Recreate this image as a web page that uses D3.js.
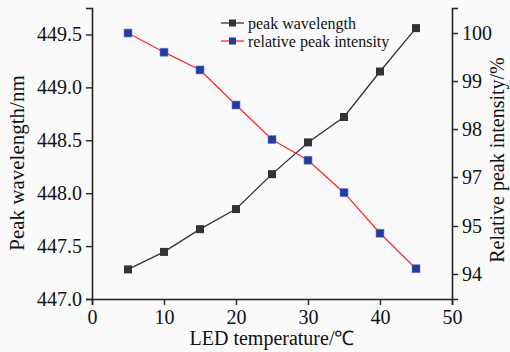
<!DOCTYPE html>
<html>
<head>
<meta charset="utf-8">
<script src="https://cdn.jsdelivr.net/npm/d3@7"></script>
<style>
  html, body { margin: 0; padding: 0; background: #fafafa; }
  svg { display: block; }
  text { font-family: "Liberation Serif", "Times New Roman", serif; fill: #111; }
</style>
</head>
<body>
<svg id="chart" width="510" height="352"></svg>
<script>
// ---- data ----
const temperatures = [5, 10, 15, 20, 25, 30, 35, 40, 45];
const peakWavelength = [447.28, 447.445, 447.66, 447.85, 448.18, 448.48, 448.72, 449.15, 449.56];
const relativeIntensity = [100.0, 99.6, 99.23, 98.5, 97.78, 97.35, 96.36, 94.85, 94.11];
const xTicks = [0, 10, 20, 30, 40, 50];
const leftTicks = [447.0, 447.5, 448.0, 448.5, 449.0, 449.5];
const rightTicks = [94, 95, 97, 98, 99, 100];
const seriesNames = ["peak wavelength", "relative peak intensity"];

const svg = d3.select("#chart");
const L = 92, R = 452, B = 299, T = 8;
const serif = '"Liberation Serif", "Times New Roman", serif';

const x = d3.scaleLinear().domain([0, 50]).range([L, R]);
const yL = d3.scaleLinear().domain([447, 449.75]).range([B, T]);
// right axis as printed (unevenly labelled, evenly spaced)
const yR = d3.scaleLinear()
  .domain([93.46, 94, 95, 97, 98, 99, 100, 100.52])
  .range([B, 274, 226, 177, 129, 81, 33, T]);

const axisColor = "#222";

function styleAxis(g) {
  g.attr("font-family", serif);
  g.select(".domain").attr("stroke", axisColor).attr("stroke-width", 1.6);
  g.selectAll(".tick line").attr("stroke", axisColor).attr("stroke-width", 1.4);
  g.selectAll(".tick text")
    .style("font-family", serif)
    .attr("font-size", 20).attr("fill", "#111");
}

// bottom axis
svg.append("g").attr("transform", `translate(0,${B})`)
  .call(d3.axisBottom(x).tickValues(xTicks).tickFormat(d3.format("d")).tickSizeOuter(0).tickSize(6).tickPadding(5))
  .call(styleAxis);

// left axis
svg.append("g").attr("transform", `translate(${L},0)`)
  .call(d3.axisLeft(yL).tickValues(leftTicks).tickFormat(d3.format(".1f")).tickSizeOuter(0).tickSize(6).tickPadding(4))
  .call(styleAxis);

// right axis
svg.append("g").attr("transform", `translate(${R},0)`)
  .call(d3.axisRight(yR).tickValues(rightTicks).tickFormat(d3.format("d")).tickSizeOuter(0).tickSize(6).tickPadding(4))
  .call(styleAxis);

// series
const blackCol = "#333333", redCol = "#ff2a2a", blueCol = "#203d9e";
const wlData = temperatures.map((t, i) => [t, peakWavelength[i]]);
const riData = temperatures.map((t, i) => [t, relativeIntensity[i]]);

svg.append("path").datum(wlData)
  .attr("fill", "none").attr("stroke", blackCol).attr("stroke-width", 1.3)
  .attr("d", d3.line().x(d => x(d[0])).y(d => yL(d[1])));
svg.append("path").datum(riData)
  .attr("fill", "none").attr("stroke", redCol).attr("stroke-width", 1.3)
  .attr("d", d3.line().x(d => x(d[0])).y(d => yR(d[1])));

const ms = 8;
svg.append("g").selectAll("rect").data(wlData).join("rect")
  .attr("x", d => x(d[0]) - ms / 2).attr("y", d => yL(d[1]) - ms / 2)
  .attr("width", ms).attr("height", ms).attr("fill", blackCol);
svg.append("g").selectAll("rect").data(riData).join("rect")
  .attr("x", d => x(d[0]) - ms / 2).attr("y", d => yR(d[1]) - ms / 2)
  .attr("width", ms).attr("height", ms).attr("fill", blueCol)
  .attr("stroke", "#6d80c8").attr("stroke-width", 0.6);

// legend
const legend = svg.append("g");
const legendItems = [
  { name: seriesNames[0], line: blackCol, mark: blackCol, y: 23 },
  { name: seriesNames[1], line: redCol, mark: blueCol, y: 41 }
];
legendItems.forEach(it => {
  legend.append("line").attr("x1", 221).attr("x2", 244).attr("y1", it.y).attr("y2", it.y)
    .attr("stroke", it.line).attr("stroke-width", 1.3);
  legend.append("rect").attr("x", 232.5 - 3.5).attr("y", it.y - 3.5).attr("width", 7).attr("height", 7)
    .attr("fill", it.mark);
  legend.append("text").attr("x", 248).attr("y", it.y + 6).attr("font-size", 16).text(it.name);
});

// axis titles
svg.append("text").attr("x", (L + R) / 2).attr("y", 345).attr("text-anchor", "middle")
  .attr("font-size", 20).text("LED temperature/℃");
svg.append("text").attr("transform", "translate(24,163) rotate(-90)").attr("text-anchor", "middle")
  .attr("font-size", 21).text("Peak wavelength/nm");
svg.append("text").attr("transform", "translate(504,160) rotate(-90)").attr("text-anchor", "middle")
  .attr("font-size", 20).text("Relative peak intensity/%");
</script>
</body>
</html>
